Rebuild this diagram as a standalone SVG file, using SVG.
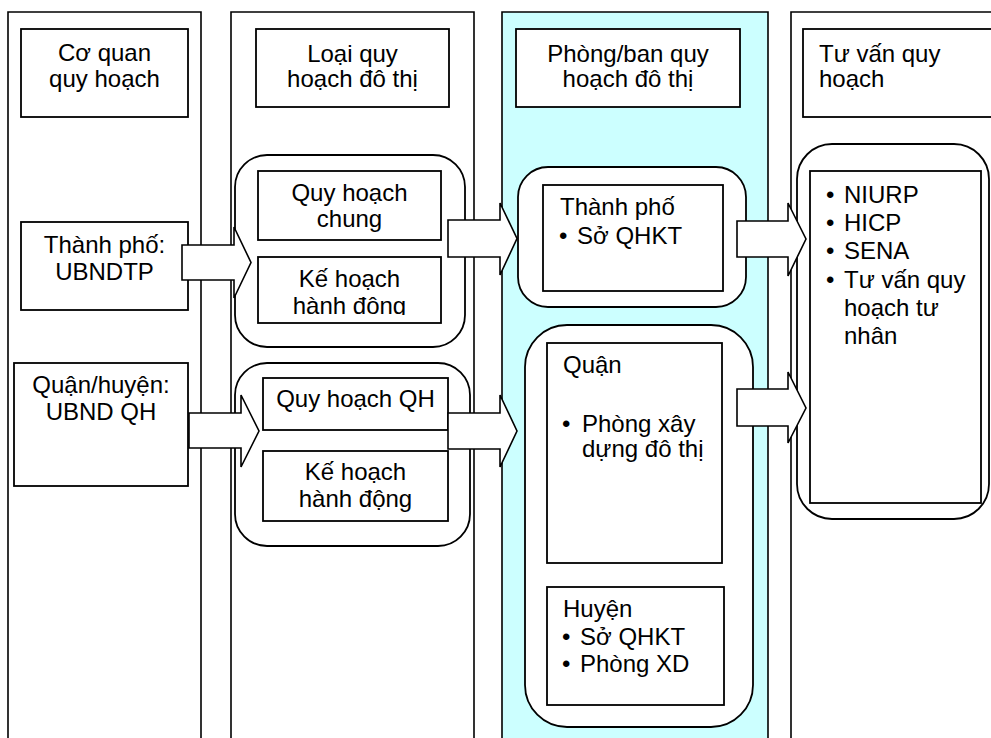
<svg xmlns="http://www.w3.org/2000/svg" width="991" height="738" viewBox="0 0 991 738">
  <style>
    .lane { fill: #ffffff; stroke: #000; stroke-width: 1.6; }
    .lane-cyan { fill: #ccffff; stroke: #000; stroke-width: 1.6; }
    .box { fill: #ffffff; stroke: #000; stroke-width: 1.8; }
    .round { fill: #ffffff; stroke: #000; stroke-width: 1.8; }
    .arrow { fill: #ffffff; stroke: #000; stroke-width: 1.6; stroke-linejoin: miter; }
    text { font-family: "Liberation Sans", Arial, sans-serif; font-size: 24px; fill: #000; }
    .c { text-anchor: middle; }
  </style>
  <defs>
    <clipPath id="clip-kh1">
      <rect x="258" y="257" width="183" height="58"/>
    </clipPath>
  </defs>

  <!-- swimlanes -->
  <g id="lanes">
    <path class="lane" d="M8,740 V12 H201 V740"/>
    <path class="lane" d="M231,740 V12 H474 V740"/>
    <path class="lane-cyan" d="M502,740 V12 H768 V740"/>
    <path class="lane" d="M791,740 V12 H1000"/>
  </g>

  <!-- lane headers -->
  <g id="hdr-coquan">
    <rect class="box" x="21" y="29" width="167" height="88"/>
    <text class="c" x="104.5" y="61">Cơ quan</text>
    <text class="c" x="104.5" y="87">quy hoạch</text>
  </g>
  <g id="hdr-loai">
    <rect class="box" x="256" y="29" width="193" height="78"/>
    <text class="c" x="352.5" y="62">Loại quy</text>
    <text class="c" x="352.5" y="87">hoạch đô thị</text>
  </g>
  <g id="hdr-phong">
    <rect class="box" x="516" y="29" width="224" height="78"/>
    <text class="c" x="628" y="62">Phòng/ban quy</text>
    <text class="c" x="628" y="87">hoạch đô thị</text>
  </g>
  <g id="hdr-tuvan">
    <rect class="box" x="803" y="29" width="195" height="88"/>
    <text x="819" y="62">Tư vấn quy</text>
    <text x="819" y="87">hoạch</text>
  </g>

  <!-- planning authorities -->
  <g id="ubndtp">
    <rect class="box" x="21" y="222" width="167" height="88"/>
    <text class="c" x="104.5" y="253">Thành phố:</text>
    <text class="c" x="104.5" y="280">UBNDTP</text>
  </g>
  <g id="ubndqh">
    <rect class="box" x="14" y="363" width="174" height="123"/>
    <text class="c" x="101" y="393">Quận/huyện:</text>
    <text class="c" x="101" y="420">UBND QH</text>
  </g>

  <!-- plan types -->
  <g id="plan-city">
    <rect class="round" x="235" y="155" width="230" height="192" rx="32" ry="32"/>
    <rect class="box" x="258" y="171" width="183" height="69"/>
    <text class="c" x="349.5" y="201">Quy hoạch</text>
    <text class="c" x="349.5" y="227">chung</text>
    <rect class="box" x="258" y="257" width="183" height="66"/>
    <g clip-path="url(#clip-kh1)">
      <text class="c" x="349.5" y="287">Kế hoạch</text>
      <text class="c" x="349.5" y="314">hành động</text>
    </g>
  </g>
  <g id="plan-district">
    <rect class="round" x="235" y="363" width="235" height="183" rx="32" ry="32"/>
    <rect class="box" x="263" y="378" width="185" height="52"/>
    <text class="c" x="355.5" y="407">Quy hoạch QH</text>
    <rect class="box" x="263" y="451" width="185" height="70"/>
    <text class="c" x="355.5" y="480">Kế hoạch</text>
    <text class="c" x="355.5" y="507">hành động</text>
  </g>

  <!-- planning offices -->
  <g id="office-city">
    <rect class="round" x="518" y="167" width="228" height="140" rx="30" ry="30"/>
    <rect class="box" x="543" y="185" width="180" height="106"/>
    <text x="560" y="215">Thành phố</text>
    <text x="559" y="244">•</text>
    <text x="577" y="244">Sở QHKT</text>
  </g>
  <g id="office-district">
    <rect class="round" x="525" y="325" width="228" height="402" rx="42" ry="42"/>
    <rect class="box" x="547" y="343" width="175" height="220"/>
    <text x="563" y="373">Quận</text>
    <text x="562" y="432">•</text>
    <text x="582" y="432">Phòng xây</text>
    <text x="582" y="457">dựng đô thị</text>
    <rect class="box" x="547" y="587" width="177" height="118"/>
    <text x="563" y="617">Huyện</text>
    <text x="562" y="645">•</text>
    <text x="580" y="645">Sở QHKT</text>
    <text x="562" y="672">•</text>
    <text x="580" y="672">Phòng XD</text>
  </g>

  <!-- consultants -->
  <g id="consultants">
    <rect class="round" x="797" y="144" width="192" height="375" rx="35" ry="35"/>
    <rect class="box" x="810" y="171" width="171" height="332"/>
    <text x="826" y="203">•</text>
    <text x="844" y="203">NIURP</text>
    <text x="826" y="231">•</text>
    <text x="844" y="231">HICP</text>
    <text x="826" y="259">•</text>
    <text x="844" y="259">SENA</text>
    <text x="826" y="288">•</text>
    <text x="844" y="288">Tư vấn quy</text>
    <text x="844" y="316">hoạch tư</text>
    <text x="844" y="344">nhân</text>
  </g>

  <!-- block arrows -->
  <g id="connectors">
    <polygon class="arrow" points="182,245 234,245 234,227 251,262.5 234,298 234,280 182,280"/>
    <polygon class="arrow" points="189,413 241,413 241,395 259,431 241,467 241,448 189,448"/>
    <polygon class="arrow" points="448,220 500,220 500,203 517,238.5 500,275 500,257 448,257"/>
    <polygon class="arrow" points="448,413 500,413 500,395 517,431 500,467 500,449 448,449"/>
    <polygon class="arrow" points="737,221 788,221 788,203 806,239 788,276 788,257 737,257"/>
    <polygon class="arrow" points="737,389 788,389 788,372 806,408 788,443 788,426 737,426"/>
  </g>
</svg>
